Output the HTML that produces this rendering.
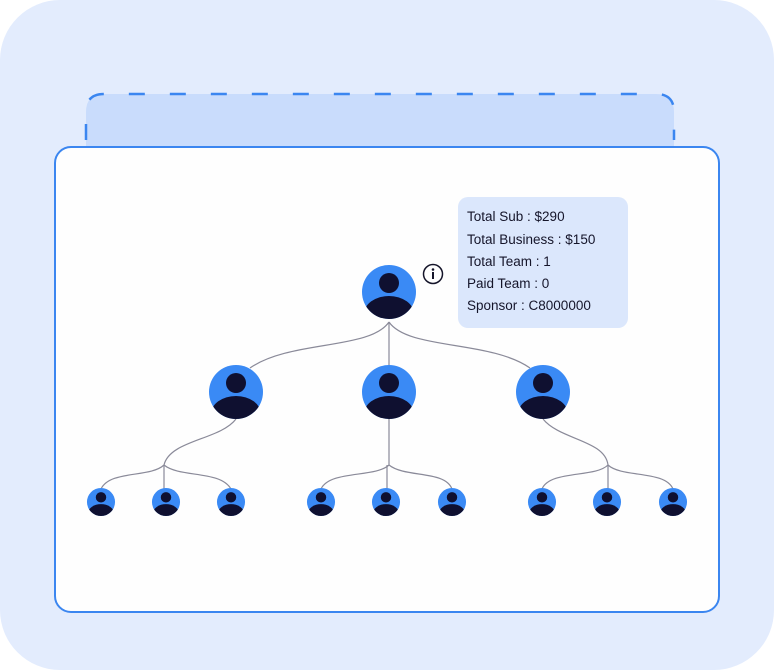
<!DOCTYPE html>
<html><head><style>
html,body{margin:0;padding:0;background:#fff;width:774px;height:670px;overflow:hidden}
svg{display:block}
text{font-family:"Liberation Sans",sans-serif;font-size:13.5px;fill:#15152a;font-weight:500}
</style></head><body>
<svg width="774" height="670" viewBox="0 0 774 670">
<defs>
<g id="av">
<circle r="27" fill="#3a8af5"/>
<clipPath id="cp"><circle r="27"/></clipPath>
<g clip-path="url(#cp)" fill="#0f1030">
<circle cx="0" cy="-9" r="10"/>
<ellipse cx="0" cy="22" rx="25" ry="18"/>
</g>
</g>
</defs>
<rect x="0" y="0" width="774" height="670" rx="60" fill="#e3ecfd"/>
<path d="M86 147 V112 Q86 94 104 94 H656 Q674 94 674 112 V147 Z" fill="#c9dcfc"/>
<path d="M86 140 V112 Q86 94 104 94 H656 Q674 94 674 112 V140" fill="none" stroke="#3b86f0" stroke-width="2.5" stroke-dasharray="16 25"/>
<rect x="55" y="147" width="664" height="465" rx="16" fill="#fefefe" stroke="#3b86f0" stroke-width="2"/>
<g fill="none" stroke="#8a8a99" stroke-width="1.2">
<path d="M389 322 C370 350,290 340,250 368"/>
<path d="M389 322 V366"/>
<path d="M389 322 C408 350,490 340,530 368"/>
<path d="M236 419 C220 440,170 440,164 465 C150 478,110 470,101 489"/>
<path d="M164 465 V489"/>
<path d="M164 465 C180 478,220 470,231 489"/>
<path d="M389 419 V465 C375 478,330 470,321 489"/>
<path d="M387 465 V489"/>
<path d="M389 465 C405 478,445 470,452 489"/>
<path d="M543 419 C560 440,605 440,608 465 C595 478,550 470,542 489"/>
<path d="M608 465 V489"/>
<path d="M608 465 C622 478,665 470,673 489"/>
</g>
<use href="#av" x="389" y="292"/>
<use href="#av" x="236" y="392"/>
<use href="#av" x="389" y="392"/>
<use href="#av" x="543" y="392"/>
<g>
<use href="#av" transform="translate(101 502) scale(0.52)"/>
<use href="#av" transform="translate(166 502) scale(0.52)"/>
<use href="#av" transform="translate(231 502) scale(0.52)"/>
<use href="#av" transform="translate(321 502) scale(0.52)"/>
<use href="#av" transform="translate(386 502) scale(0.52)"/>
<use href="#av" transform="translate(452 502) scale(0.52)"/>
<use href="#av" transform="translate(542 502) scale(0.52)"/>
<use href="#av" transform="translate(607 502) scale(0.52)"/>
<use href="#av" transform="translate(673 502) scale(0.52)"/>
</g>
<circle cx="433" cy="274" r="9.5" fill="#fff" stroke="#15152a" stroke-width="1.5"/>
<circle cx="433" cy="269.5" r="1.3" fill="#15152a"/>
<rect x="432" y="272" width="2" height="7" fill="#15152a"/>
<rect x="458" y="197" width="170" height="131" rx="10" fill="#dbe7fc"/>
<text x="467" y="221">Total Sub : $290</text>
<text x="467" y="244">Total Business : $150</text>
<text x="467" y="266">Total Team : 1</text>
<text x="467" y="288">Paid Team : 0</text>
<text x="467" y="310">Sponsor : C8000000</text>
</svg>
</body></html>
